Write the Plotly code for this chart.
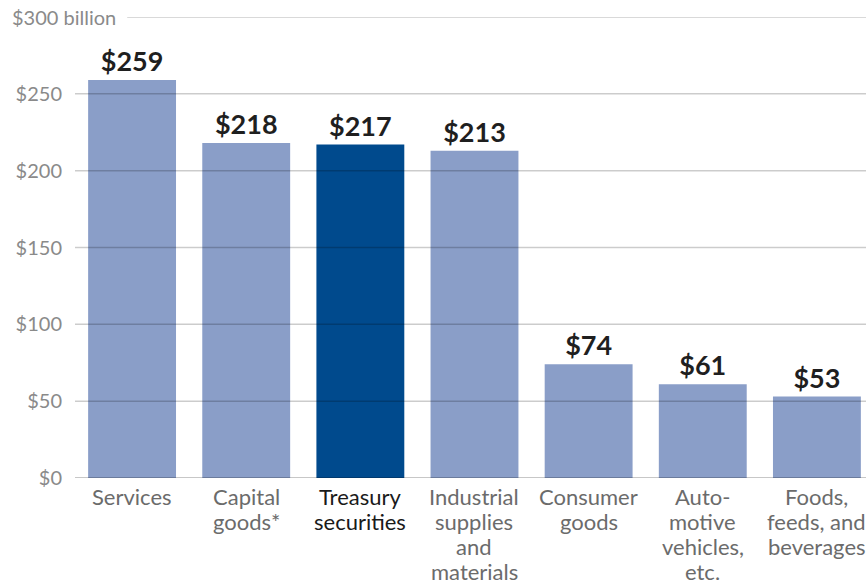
import plotly.graph_objects as go

# Export categories and values (billions of dollars)
categories = [
    ["Services"],
    ["Capital", "goods*"],
    ["Treasury", "securities"],
    ["Industrial", "supplies", "and", "materials"],
    ["Consumer", "goods"],
    ["Auto-", "motive", "vehicles,", "etc."],
    ["Foods,", "feeds, and", "beverages"],
]
values = [259, 218, 217, 213, 74, 61, 53]
highlight = [False, False, True, False, False, False, False]

y_ticks = [0, 50, 100, 150, 200, 250]
y_tick_labels = ["$0", "$50", "$100", "$150", "$200", "$250"]
top_value = 300
top_label = "$300 billion"

LIGHT = "#8a9ec8"
DARK = "#004a8d"
FONT = "Lato"
LINE_GAP = 25  # px between category label lines

x = list(range(len(categories)))
colors = [DARK if h else LIGHT for h in highlight]

fig = go.Figure(
    go.Bar(
        x=x,
        y=values,
        marker=dict(color=colors, line=dict(width=0)),
        text=[f"${v}" for v in values],
        textposition="outside",
        textfont=dict(family=FONT, size=27, color="#1f1f1f", weight="bold"),
        cliponaxis=False,
        hoverinfo="skip",
    )
)

# Horizontal rules drawn over the bars
shapes = []
for v in y_ticks:
    shapes.append(
        dict(
            type="line", xref="paper", yref="y",
            x0=0, x1=1, y0=v, y1=v,
            line=dict(color="rgba(0,0,0,0.2)" if v else "rgba(0,0,0,0.22)",
                      width=1.5 if v else 2),
            layer="above",
        )
    )
shapes.append(
    dict(
        type="line", xref="paper", yref="y",
        x0=0.066, x1=1, y0=top_value, y1=top_value,
        line=dict(color="rgba(0,0,0,0.2)", width=1.5),
        layer="above",
    )
)

annotations = [
    dict(
        text=top_label, xref="paper", yref="y",
        x=-0.082, y=top_value, xanchor="left", yanchor="middle",
        showarrow=False,
        font=dict(family=FONT, size=20, color="#8a8a8a"),
    )
]

# Category labels, one annotation per line for tighter line spacing
for i, (lines, h) in enumerate(zip(categories, highlight)):
    for k, line in enumerate(lines):
        annotations.append(
            dict(
                text=line, x=i, y=0, xref="x", yref="y",
                xanchor="center", yanchor="middle",
                yshift=-(18 + LINE_GAP * k),
                showarrow=False,
                font=dict(family=FONT, size=22,
                          color="#1a1a1a" if h else "#6b6b6b"),
            )
        )

fig.update_layout(
    width=866,
    height=584,
    margin=dict(l=75, r=0, t=17, b=106),
    paper_bgcolor="white",
    plot_bgcolor="white",
    bargap=0.23,
    showlegend=False,
    shapes=shapes,
    annotations=annotations,
    xaxis=dict(
        range=[-0.5, 6.43],
        tickvals=x,
        showticklabels=False,
        showgrid=False,
        showline=False,
        zeroline=False,
        ticks="",
    ),
    yaxis=dict(
        range=[0, top_value],
        tickmode="array",
        tickvals=y_ticks,
        ticktext=y_tick_labels,
        tickfont=dict(family=FONT, size=20, color="#8a8a8a"),
        showgrid=False,
        zeroline=False,
        showline=False,
        ticks="",
        ticklabelstandoff=12,
    ),
)

fig.write_html("out.html")
